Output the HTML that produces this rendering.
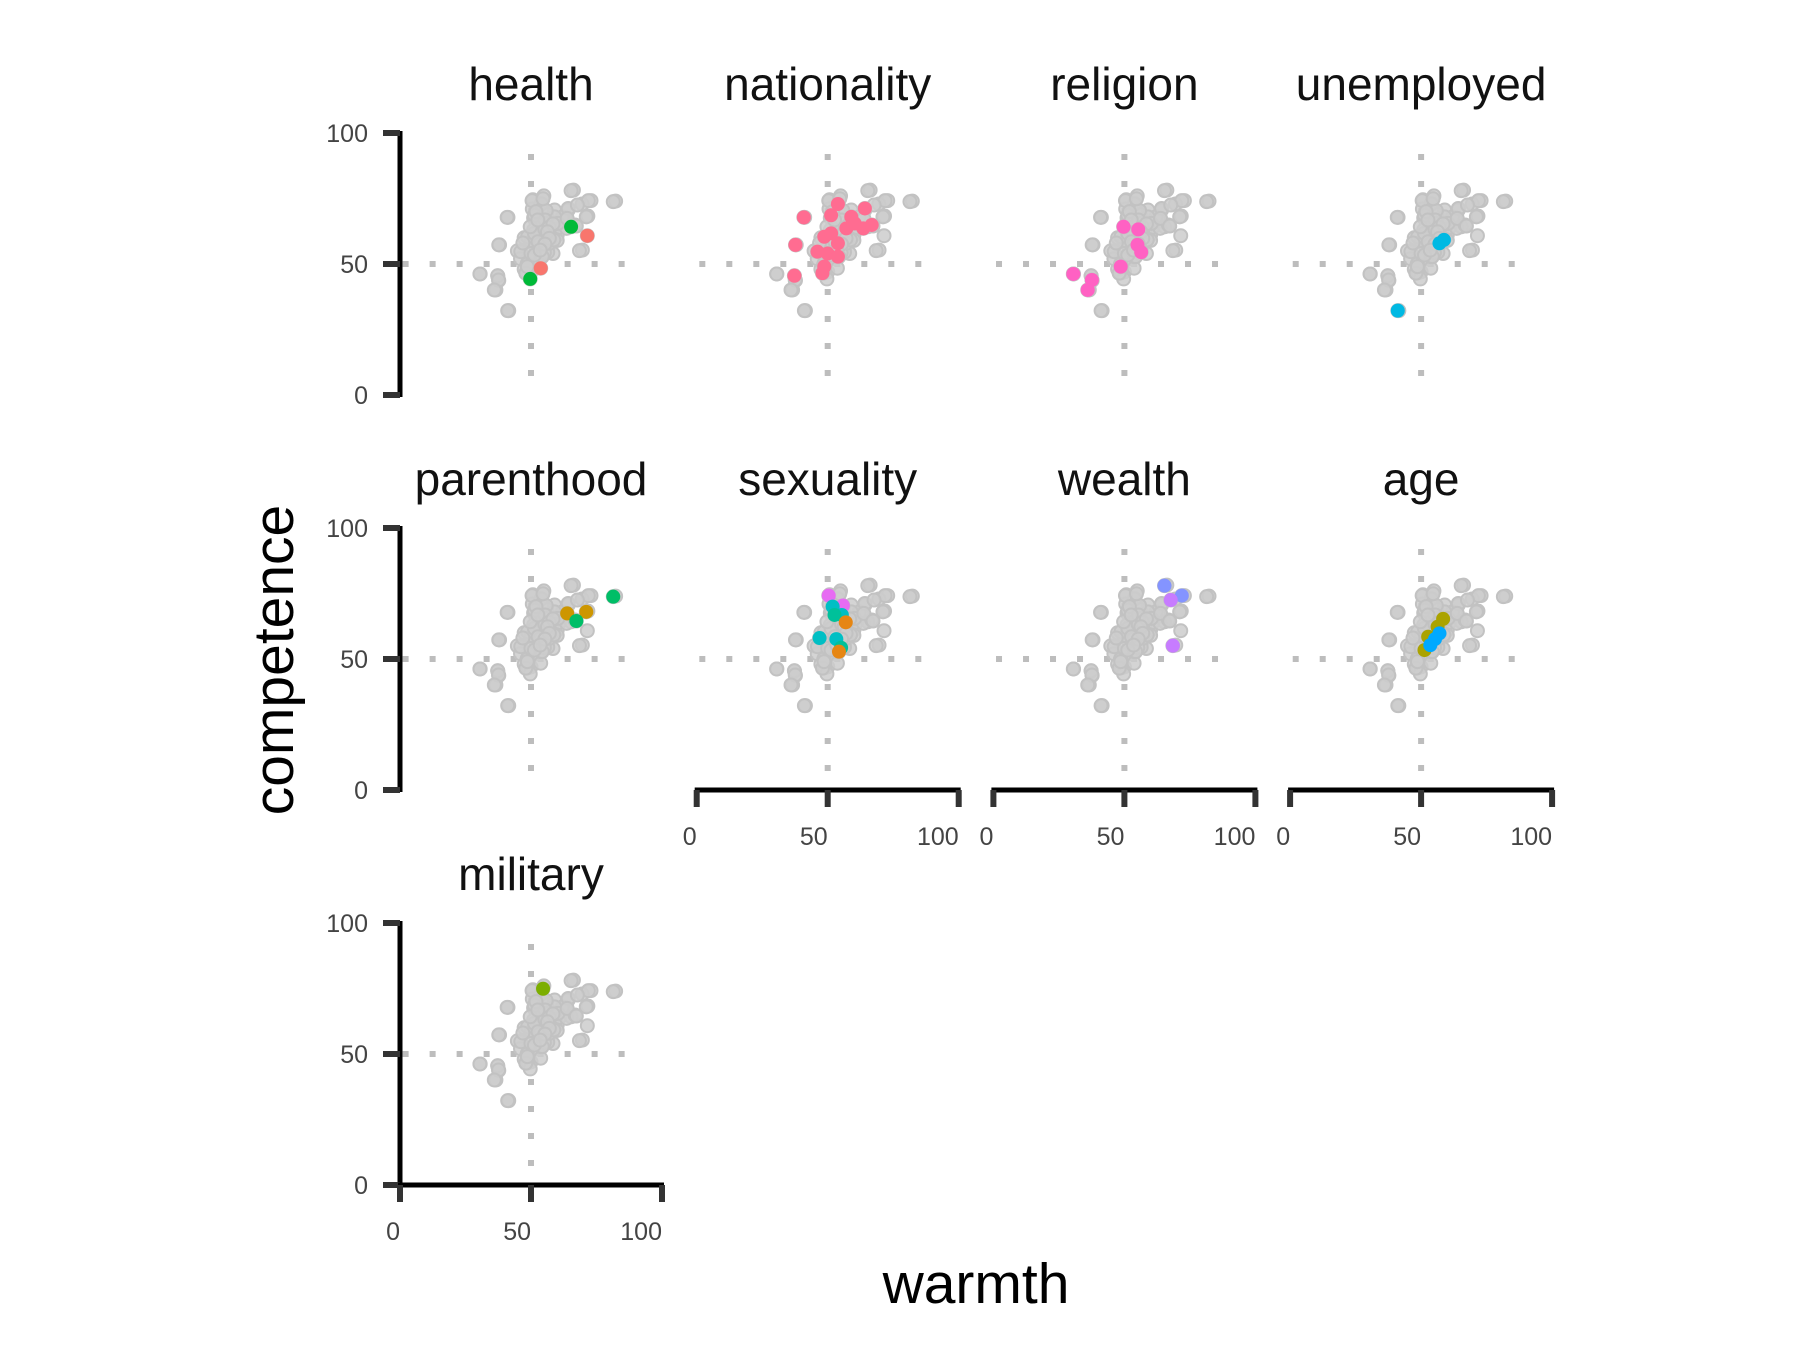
<!DOCTYPE html>
<html><head><meta charset="utf-8"><title>warmth vs competence</title>
<style>
html,body{margin:0;padding:0;background:#fff;}
svg{display:block;font-family:"Liberation Sans",Arial,sans-serif;}
</style></head>
<body>
<svg id="chart" width="1800" height="1350" viewBox="0 0 1800 1350" xmlns="http://www.w3.org/2000/svg">
<rect width="1800" height="1350" fill="#fff"/>
<text x="0" y="0" transform="translate(293,660) rotate(-90)" text-anchor="middle" font-size="57" fill="#000">competence</text>
<text x="976" y="1303" text-anchor="middle" font-size="57" fill="#000">warmth</text>
</svg>
<script>
const facets = ["health","nationality","religion","unemployed","parenthood","sexuality","wealth","age","military"];
const greyW = [66.2,72.9,82.3,69.5,71.7,64.2,69.6,41.2,38,30.6,37.3,37.7,36.6,41.5,54.9,50.7,50,47.4,44.8,47.4,51,57.7,60,56.5,52.6,63,53.9,59,51,55.2,58.4,50,48.7,54,56,58,61,49,52,60,55,53,57,62,50.5,46,48.5,51.5];
const greyC = [78.2,74.2,74,72.9,68.3,70.6,55.3,67.8,57.3,46.2,45.5,43.7,40.1,32.2,76,74.5,47,48,55,60,67.6,65,61,56,52,67.6,73,70.6,63,58,54,58.5,46.6,66,69,63,64,52,56,59,62,60,66,68,71,52,50,57];
const healthW = [65.3,49.7,71.5,53.7];
const healthC = [64.2,44.3,60.8,48.4];
const healthCol = ["#00BA38","#00BA38","#F8766D","#F8766D"];
const nationalityW = [40.9,37.7,37.3,53.9,51.3,64.2,63.6,66.8,59,57.1,48.7,51.3,53.9,46.1,50,53.9,48,48.7,60.3];
const nationalityC = [67.8,57.3,45.5,72.9,68.6,71.2,63.6,64.9,68,63.6,60.4,61.7,57.9,54.7,54,52.8,46.5,49,65.5];
const religionW = [49.7,55.3,55,56.4,48.6,30.5,37.6,36];
const religionC = [64.2,63.2,57.3,54.5,49,46.2,43.9,40.1];
const unemployedW = [41.1,57,58.7];
const unemployedC = [32.2,57.9,59.2];
const parenthoodW = [63.8,71.1,81.4,67.3];
const parenthoodC = [67.4,68,73.8,64.5];
const parenthoodCol = ["#CD9600","#CD9600","#00BE67","#00BE67"];
const sexualityW = [50.4,55.8,51.9,55.4,46.9,53.3,52.6,55.1,56.9,54.3];
const sexualityC = [74.2,70.4,70,66.8,58,57.6,66.8,54.3,64,52.8];
const sexualityCol = ["#E76BF3","#E76BF3","#00BFC4","#00BFC4","#00BFC4","#00BFC4","#00C19A","#00C19A","#E68613","#E68613"];
const wealthW = [65.3,71.9,67.7,68.5];
const wealthC = [78,74.2,72.5,55.1];
const wealthCol = ["#8494FF","#8494FF","#C77CFF","#C77CFF"];
const ageW = [58.4,56.3,52.7,51.3,57,55.3,53.5];
const ageC = [65.3,62.3,58.5,53.4,59.8,57.6,55.3];
const ageCol = ["#ABA300","#ABA300","#ABA300","#ABA300","#00A9FF","#00A9FF","#00A9FF"];
const militaryW = [54.6];
const militaryC = [74.9];
const tickVals = [0,50,100];
const tickLabels = ["0","50","100"];

const NS="http://www.w3.org/2000/svg";
const svg=document.getElementById('chart');
const PW=262, COLX0=400, COLSTEP=296.7, ROWY0=395, ROWSTEP=395;
function mk(tag,attrs,parent){const e=document.createElementNS(NS,tag);for(const k in attrs)e.setAttribute(k,attrs[k]);(parent||svg).appendChild(e);return e;}
function xs(i,v){return COLX0+(i%4)*COLSTEP+v*PW/100;}
function ys(i,v){return ROWY0+Math.floor(i/4)*ROWSTEP-v*PW/100;}

const groups = [
 {w:healthW,c:healthC,col:healthCol},
 {w:nationalityW,c:nationalityC,col:nationalityW.map(()=>"#FF6C91")},
 {w:religionW,c:religionC,col:religionW.map(()=>"#FF61C3")},
 {w:unemployedW,c:unemployedC,col:unemployedW.map(()=>"#00B9E3")},
 {w:parenthoodW,c:parenthoodC,col:parenthoodCol},
 {w:sexualityW,c:sexualityC,col:sexualityCol},
 {w:wealthW,c:wealthC,col:wealthCol},
 {w:ageW,c:ageC,col:ageCol},
 {w:militaryW,c:militaryC,col:militaryW.map(()=>"#7CAE00")}
];
const allW=[...greyW], allC=[...greyC];
groups.forEach(g=>{g.w.forEach((v,k)=>{allW.push(v);allC.push(g.c[k]);});});

facets.forEach((name,i)=>{
  const g=mk('g',{});
  
  
  const cx=xs(i,50);
  const t=mk('text',{x:cx,y:ys(i,0)-295,'text-anchor':'middle','font-size':'46',fill:'#111'},g);
  t.textContent=name;
  
  
  const vl=mk('line',{x1:xs(i,50),x2:xs(i,50),y1:ys(i,92),y2:ys(i,0),stroke:'#bdbdbd','stroke-width':6,'stroke-dasharray':'6 21'},g);
  
  
  const hl=mk('line',{x1:xs(i,1),x2:xs(i,93),y1:ys(i,50),y2:ys(i,50),stroke:'#bdbdbd','stroke-width':6,'stroke-dasharray':'6 21'},g);
  
  
  allW.forEach((w,k)=>{
    const p=mk('circle',{cx:xs(i,w),cy:ys(i,allC[k]),r:6.5,fill:'#cccccc','fill-opacity':0.85,stroke:'#c2c2c2','stroke-width':2},g);
    
    
  });
  const gr=groups[i];
  gr.w.forEach((w,k)=>{
    const p=mk('circle',{cx:xs(i,w),cy:ys(i,gr.c[k]),r:7,fill:gr.col[k]},g);
    
    
  });
  const col=i%4,row=Math.floor(i/4);
  if(col===0){
    const ax=mk('line',{x1:xs(i,0),x2:xs(i,0),y1:ys(i,0)+2,y2:ys(i,100)-2,stroke:'#000','stroke-width':5},g);
    
    
    tickVals.forEach((v,k)=>{
      const tk=mk('line',{x1:xs(i,0)-17,x2:xs(i,0),y1:ys(i,v),y2:ys(i,v),stroke:'#333','stroke-width':6},g);
      
      
      const tl=mk('text',{x:xs(i,0)-32,y:ys(i,v)+9,'text-anchor':'end','font-size':'25',fill:'#444'},g);
      tl.textContent=tickLabels[k];
      
      
    });
  }
  if((row===1&&col>0)||row===2){
    const ax=mk('line',{x1:xs(i,0)-2,x2:xs(i,100)+2,y1:ys(i,0),y2:ys(i,0),stroke:'#000','stroke-width':5},g);
    
    
    tickVals.forEach((v,k)=>{
      const tk=mk('line',{x1:xs(i,v),x2:xs(i,v),y1:ys(i,0),y2:ys(i,0)+17,stroke:'#333','stroke-width':6},g);
      
      
      const tl=mk('text',{x:xs(i,v),y:ys(i,0)+55,'text-anchor':'end','font-size':'25',fill:'#444'},g);
      tl.textContent=tickLabels[k];
      
      
    });
  }
});
</script>
</body></html>
